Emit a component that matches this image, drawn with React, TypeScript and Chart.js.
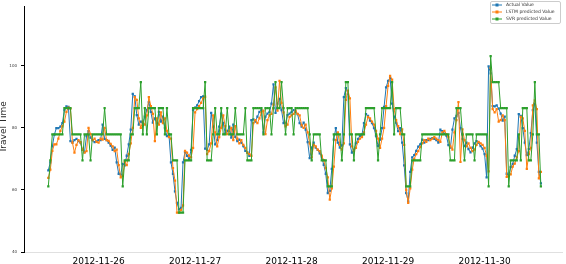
import React, { useEffect, useRef } from 'react';
import { Chart, registerables } from 'chart.js';

Chart.register(...registerables);

// ---- data ----
const dayLabels = ['2012-11-26', '2012-11-27', '2012-11-28', '2012-11-29', '2012-11-30'];
const dayTickHours = [0, 24, 48, 72, 96];
const yTickValues = [40, 60, 80, 100];
const firstHour = -12.5; // hours relative to 2012-11-26 00:00
const stepHours = 0.5;

const seriesNames = ['Actual Value', 'LSTM predicted Value', 'SVR predicted Value'];
const seriesColors = ['#1f77b4', '#ff7f0e', '#2ca02c'];

const actualValue = [
  66.3, 68.9, 74.1, 77.8, 79.9, 79.9, 80.4, 81.5, 85.7, 86.9,
  86.7, 75.7, 75.2, 76.0, 76.4, 75.7, 75.2, 72.9, 72.2, 77.3,
  78.9, 76.8, 76.0, 75.4, 75.6, 76.0, 76.0, 81.0, 76.4, 76.0,
  75.2, 74.3, 72.9, 73.6, 68.9, 65.2, 64.9, 68.4, 67.9, 71.0,
  74.7, 79.4, 90.9, 90.1, 84.1, 81.0, 82.0, 81.5, 83.6, 85.7,
  88.3, 85.1, 81.7, 83.0, 81.5, 85.1, 82.0, 83.6, 79.9, 77.3,
  77.8, 68.9, 65.2, 59.5, 55.8, 53.7, 54.2, 68.9, 72.2, 71.0,
  70.0, 72.9, 85.7, 86.5, 87.2, 88.6, 89.9, 90.1, 73.3, 72.9,
  74.7, 84.8, 80.4, 74.7, 76.0, 80.4, 84.6, 81.5, 78.1, 78.9,
  80.4, 76.8, 81.0, 77.1, 75.7, 76.2, 75.2, 74.1, 72.6, 72.0,
  71.0, 82.5, 82.7, 82.0, 83.6, 85.1, 85.7, 78.5, 83.6, 84.6,
  85.1, 87.8, 94.0, 84.8, 87.8, 89.3, 85.7, 81.5, 81.5, 84.1,
  84.6, 85.1, 85.7, 85.1, 84.4, 81.5, 80.4, 81.7, 79.4, 75.4,
  70.2, 73.6, 75.2, 73.6, 72.9, 71.8, 70.5, 68.1, 65.2, 59.0,
  59.7, 66.8, 76.2, 79.9, 75.2, 73.6, 74.3, 89.9, 92.8, 90.9,
  74.7, 72.0, 72.9, 75.0, 76.4, 77.3, 77.8, 81.5, 84.4, 83.8,
  82.3, 81.5, 79.9, 77.3, 74.1, 76.2, 79.9, 86.7, 93.0, 95.1,
  96.1, 87.8, 83.6, 81.7, 78.9, 79.9, 75.2, 67.9, 59.0, 56.3,
  65.8, 70.5, 71.2, 72.6, 73.9, 74.7, 76.2, 75.2, 76.0, 76.0,
  76.4, 76.7, 76.4, 76.0, 75.2, 79.4, 78.9, 78.1, 77.5, 74.4,
  73.6, 79.4, 83.0, 83.8, 84.8, 79.9, 76.4, 74.1, 75.2, 73.1,
  72.1, 73.6, 75.0, 75.7, 75.2, 74.1, 73.3, 71.5, 64.0, 99.8,
  97.5, 87.0, 86.9, 87.2, 86.2, 84.6, 82.3, 83.6, 65.2, 64.5,
  67.3, 68.4, 71.0, 73.1, 84.4, 83.8, 79.9, 75.2, 71.2, 73.1,
  78.3, 85.7, 87.8, 75.2, 65.8, 62.1,
];

const lstmValue = [
  63.9, 66.5, 72.6, 74.7, 74.7, 76.5, 79.0, 80.5, 82.0, 85.1,
  86.5, 86.2, 75.2, 72.0, 74.5, 76.0, 75.4, 73.0, 72.0, 72.5,
  80.0, 78.0, 76.0, 76.5, 75.5, 75.2, 76.5, 76.2, 80.0, 76.0,
  75.8, 74.8, 74.0, 72.5, 73.0, 68.0, 64.0, 64.5, 69.0, 68.0,
  71.5, 75.0, 80.0, 89.9, 89.0, 83.0, 80.0, 82.0, 81.0, 84.0,
  89.9, 87.0, 84.5, 75.7, 83.0, 81.0, 85.0, 81.5, 83.0, 79.0,
  77.0, 76.5, 67.0, 63.0, 52.7, 52.7, 53.5, 55.0, 72.6, 72.0,
  71.0, 70.5, 73.5, 85.0, 86.0, 87.0, 88.0, 89.5, 90.0, 71.5,
  72.5, 75.0, 84.0, 78.5, 74.0, 77.0, 80.0, 84.0, 80.5, 78.0,
  79.0, 80.0, 76.0, 80.5, 76.5, 75.0, 76.0, 74.5, 73.5, 72.0,
  71.5, 71.0, 81.5, 82.5, 81.5, 83.0, 85.0, 85.5, 78.0, 82.5,
  84.0, 84.5, 87.5, 93.0, 85.5, 95.1, 88.0, 85.0, 80.5, 81.0,
  83.5, 84.0, 84.5, 85.5, 84.5, 84.0, 80.8, 80.0, 81.0, 78.5,
  75.0, 70.5, 74.5, 74.0, 73.0, 72.5, 71.0, 69.5, 67.0, 64.0,
  56.9, 60.5, 67.5, 76.0, 78.5, 74.5, 73.0, 75.0, 89.0, 92.0,
  89.5, 74.0, 72.5, 73.5, 75.5, 76.5, 77.0, 78.5, 81.0, 83.5,
  83.0, 82.0, 81.0, 79.0, 76.5, 73.5, 76.5, 80.0, 87.0, 93.5,
  96.7, 95.5, 86.0, 82.5, 80.5, 78.0, 79.5, 74.5, 60.0, 55.8,
  60.5, 66.5, 70.0, 71.5, 72.5, 73.8, 75.0, 76.0, 75.5, 76.5,
  76.0, 76.5, 77.0, 76.5, 76.0, 75.5, 78.5, 79.0, 78.0, 77.0,
  74.0, 73.0, 78.5, 82.5, 88.3, 69.0, 79.5, 76.0, 74.0, 75.0,
  73.5, 72.5, 73.0, 74.5, 75.5, 75.0, 74.5, 73.5, 71.0, 66.0,
  99.3, 86.0, 85.0, 86.0, 82.0, 82.5, 84.0, 82.5, 64.2, 64.5,
  65.0, 67.5, 68.5, 70.5, 72.5, 83.5, 83.0, 79.0, 66.8, 71.5,
  73.5, 87.2, 88.8, 86.0, 63.7, 65.8,
];

const svrValue = [
  61.1, 69.5, 77.9, 77.9, 77.9, 77.9, 77.9, 77.9, 86.3, 86.3,
  86.3, 86.3, 77.9, 77.9, 77.9, 77.9, 77.9, 69.5, 77.9, 77.9,
  77.9, 69.5, 77.9, 77.9, 77.9, 77.9, 77.9, 77.9, 86.3, 77.9,
  77.9, 77.9, 77.9, 77.9, 77.9, 77.9, 77.9, 61.1, 69.5, 69.5,
  69.5, 77.9, 77.9, 86.3, 86.3, 86.3, 94.7, 77.9, 86.3, 77.9,
  86.3, 86.3, 86.3, 86.3, 77.9, 86.3, 86.3, 86.3, 77.9, 86.3,
  77.9, 77.9, 69.5, 69.5, 69.5, 52.7, 52.7, 52.7, 69.5, 69.5,
  69.5, 69.5, 86.3, 86.3, 86.3, 86.3, 86.3, 86.3, 94.7, 69.5,
  69.5, 69.5, 77.9, 86.3, 77.9, 77.9, 86.3, 77.9, 77.9, 86.3,
  77.9, 77.9, 77.9, 86.3, 77.9, 77.9, 77.9, 77.9, 86.3, 69.5,
  69.5, 69.5, 86.3, 86.3, 86.3, 86.3, 86.3, 77.9, 86.3, 86.3,
  86.3, 77.9, 86.3, 94.7, 86.3, 86.3, 94.7, 86.3, 77.9, 86.3,
  86.3, 86.3, 77.9, 86.3, 86.3, 86.3, 86.3, 86.3, 86.3, 86.3,
  77.9, 69.5, 77.9, 77.9, 77.9, 77.9, 69.5, 69.5, 69.5, 61.1,
  61.1, 61.1, 77.9, 77.9, 77.9, 77.9, 69.5, 77.9, 94.7, 94.7,
  77.9, 77.9, 69.5, 77.9, 77.9, 77.9, 77.9, 77.9, 86.3, 86.3,
  86.3, 86.3, 86.3, 77.9, 69.5, 77.9, 86.3, 86.3, 86.3, 86.3,
  86.3, 94.7, 77.9, 86.3, 86.3, 86.3, 77.9, 77.9, 61.1, 61.1,
  61.1, 69.5, 69.5, 69.5, 69.5, 69.5, 77.9, 77.9, 77.9, 77.9,
  77.9, 77.9, 77.9, 77.9, 77.9, 77.9, 77.9, 77.9, 77.9, 77.9,
  69.5, 69.5, 69.5, 86.3, 86.3, 86.3, 77.9, 69.5, 77.9, 77.9,
  77.9, 77.9, 69.5, 77.9, 77.9, 77.9, 77.9, 77.9, 77.9, 61.1,
  103.1, 94.7, 94.7, 94.7, 94.7, 86.3, 86.3, 86.3, 86.3, 61.1,
  69.5, 69.5, 69.5, 69.5, 77.9, 69.5, 86.3, 86.3, 86.3, 69.5,
  69.5, 77.9, 94.7, 77.9, 77.9, 61.1,
];

const yAxisTitle = 'Travel Time';

function toPoints(vals: number[]) {
  return vals.map((v, i) => ({ x: firstHour + i * stepHours, y: v }));
}

const FONT = 'DejaVu Sans';

const overlayPlugin = {
  id: 'overlay',
  afterDraw(chart: any) {
    const ctx = chart.ctx as CanvasRenderingContext2D;
    // y-axis title
    ctx.save();
    ctx.translate(4, 127);
    ctx.rotate(-Math.PI / 2);
    ctx.font = `9px "${FONT}"`;
    ctx.fillStyle = '#2a2a2a';
    ctx.textAlign = 'center';
    ctx.textBaseline = 'middle';
    ctx.fillText(yAxisTitle, 0, 0);
    ctx.restore();

    // legend box
    ctx.save();
    const bx = 490.5, by = 1.5, bw = 70, bh = 22;
    ctx.fillStyle = 'rgba(255,255,255,0.85)';
    ctx.strokeStyle = '#cccccc';
    ctx.lineWidth = 1;
    ctx.beginPath();
    (ctx as any).roundRect ? (ctx as any).roundRect(bx, by, bw, bh, 1.5) : ctx.rect(bx, by, bw, bh);
    ctx.fill();
    ctx.stroke();
    const rowY = [5, 12, 19];
    seriesNames.forEach((name, i) => {
      const y = rowY[i];
      ctx.strokeStyle = seriesColors[i];
      ctx.lineWidth = 1;
      ctx.beginPath();
      ctx.moveTo(492, y);
      ctx.lineTo(502, y);
      ctx.stroke();
      ctx.fillStyle = seriesColors[i];
      ctx.fillRect(495.5, y - 1.5, 3, 3);
      ctx.fillStyle = '#333';
      ctx.font = `4.5px "${FONT}"`;
      ctx.textAlign = 'left';
      ctx.textBaseline = 'middle';
      ctx.fillText(name, 506, y);
    });
    ctx.restore();
  },
};

export default function App() {
  const canvasRef = useRef<HTMLCanvasElement | null>(null);

  useEffect(() => {
    const canvas = canvasRef.current;
    if (!canvas) return;
    const series = [actualValue, lstmValue, svrValue];
    const chart = new Chart(canvas, {
      type: 'line',
      data: {
        datasets: series.map((vals, i) => ({
          label: seriesNames[i],
          data: toPoints(vals),
          borderColor: seriesColors[i],
          backgroundColor: seriesColors[i],
          borderWidth: 1,
          pointStyle: 'rect',
          pointRadius: 1.6,
          pointBorderWidth: 0,
          pointBackgroundColor: seriesColors[i],
          tension: 0,
          fill: false,
          order: 2 - i,
        })),
      },
      options: {
        responsive: false,
        animation: false,
        events: [],
        layout: { padding: 0 },
        plugins: {
          legend: { display: false },
          tooltip: { enabled: false },
          title: { display: false },
        },
        scales: {
          x: {
            type: 'linear',
            min: -18.55,
            max: 115.25,
            afterBuildTicks: (s: any) => {
              s.ticks = dayTickHours.map((v) => ({ value: v }));
            },
            afterFit: (s: any) => {
              s.height = 12;
            },
            ticks: {
              autoSkip: false,
              maxRotation: 0,
              padding: 2,
              color: '#000',
              font: { family: FONT, size: 9 },
              callback: (_v: any, idx: number) => dayLabels[idx],
            },
            grid: { drawOnChartArea: false, drawTicks: true, tickLength: 2, color: '#e6e6e6' },
            border: { display: true, color: '#e0e0e0', width: 1 },
          },
          y: {
            type: 'linear',
            min: 40,
            max: 119.1,
            afterBuildTicks: (s: any) => {
              s.ticks = yTickValues.map((v) => ({ value: v }));
            },
            afterFit: (s: any) => {
              s.width = 24;
            },
            ticks: {
              padding: 4,
              color: '#333',
              font: { family: FONT, size: 4 },
              callback: (v: any) => String(v),
            },
            grid: { drawOnChartArea: false, drawTicks: true, tickLength: 3, color: '#000' },
            border: { display: true, color: '#000', width: 1 },
          },
        },
      },
      plugins: [overlayPlugin],
    });
    return () => chart.destroy();
  }, []);

  return (
    <div style={{ position: 'fixed', left: 0, top: 0, width: 566, height: 264, background: '#fff' }}>
      <canvas ref={canvasRef} width={566} height={264} style={{ display: 'block' }} />
    </div>
  );
}
